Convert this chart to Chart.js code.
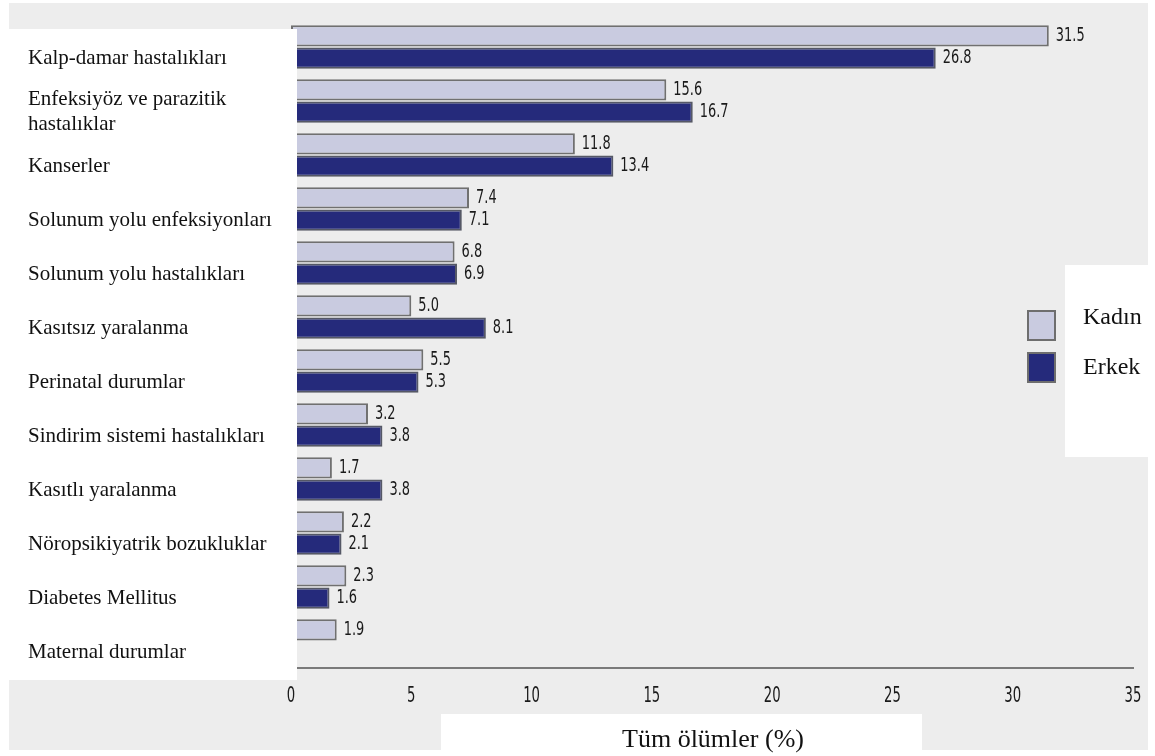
<!DOCTYPE html>
<html>
<head>
<meta charset="utf-8">
<script src="https://cdn.jsdelivr.net/npm/chart.js@4/dist/chart.umd.min.js"></script>
<style>
  html, body { margin: 0; padding: 0; background: #ffffff; }
  #wrap { width: 1155px; height: 756px; }
</style>
</head>
<body>
<div id="wrap"><canvas id="myChart" width="1155" height="756"></canvas></div>
<script>
const categories = [
  'Kalp-damar hastalıkları',
  ['Enfeksiyöz ve parazitik', 'hastalıklar'],
  'Kanserler',
  'Solunum yolu enfeksiyonları',
  'Solunum yolu hastalıkları',
  'Kasıtsız yaralanma',
  'Perinatal durumlar',
  'Sindirim sistemi hastalıkları',
  'Kasıtlı yaralanma',
  'Nöropsikiyatrik bozukluklar',
  'Diabetes Mellitus',
  'Maternal durumlar'
]
const kadin = [31.5, 15.6, 11.8, 7.4, 6.8, 5.0, 5.5, 3.2, 1.7, 2.2, 2.3, 1.9]
const erkek = [26.8, 16.7, 13.4, 7.1, 6.9, 8.1, 5.3, 3.8, 3.8, 2.1, 1.6, null]
const xTicks = [0, 5, 10, 15, 20, 25, 30, 35]
const xTitle = 'Tüm ölümler (%)'

const serif = "'Liberation Serif', 'Times New Roman', serif"
const narrow = "'Liberation Sans Narrow', 'DejaVu Sans Condensed', 'Arial Narrow', sans-serif"

// squeezed sans text for the numbers
function narrowText(ctx, text, x, y, align, squeeze) {
  ctx.save()
  ctx.translate(x, y)
  ctx.scale(squeeze, 1)
  ctx.textAlign = align
  ctx.textBaseline = 'middle'
  ctx.fillText(text, 0, 0)
  ctx.restore()
}

// grey panel with the white boxes on top of it
const panels = {
  id: 'panels',
  beforeDraw(chart) {
    const ctx = chart.ctx
    ctx.save()
    ctx.fillStyle = '#ffffff'
    ctx.fillRect(0, 0, chart.width, chart.height)
    ctx.fillStyle = '#ededed'
    ctx.fillRect(9, 3, 1139, 747)
    ctx.restore()
  },
  afterDatasetsDraw(chart) {
    const ctx = chart.ctx
    ctx.save()
    ctx.fillStyle = '#ffffff'
    ctx.fillRect(9, 29, 288, 651)
    ctx.fillRect(1065, 265, 83, 192)
    ctx.fillRect(441, 714, 481, 42)
    ctx.restore()
  },
  afterDraw(chart) {
    const ctx = chart.ctx
    ctx.save()
    // x tick labels
    const xs = chart.scales.x
    ctx.fillStyle = '#1a1a1a'
    ctx.font = '21px ' + narrow
    xTicks.forEach(v => narrowText(ctx, String(v), xs.getPixelForValue(v), 697, 'center', 0.7))
    // axis title
    ctx.fillStyle = '#111'
    ctx.font = '26px ' + serif
    ctx.textAlign = 'center'
    ctx.textBaseline = 'middle'
    ctx.fillText(xTitle, 713, 740)
    // legend
    ctx.textAlign = 'left'
    ctx.font = '24px ' + serif
    chart.data.datasets.forEach((ds, i) => {
      const y = 311 + i * 42
      ctx.fillStyle = ds.backgroundColor
      ctx.fillRect(1028, y, 27, 29)
      ctx.strokeStyle = '#6e6e6e'
      ctx.lineWidth = 2
      ctx.strokeRect(1028, y, 27, 29)
      ctx.fillStyle = '#111'
      ctx.fillText(ds.label, 1083, y + 7 + i * 8)
    })
    ctx.restore()
  }
}

// value printed at the end of each bar
const barValues = {
  id: 'barValues',
  afterDatasetsDraw(chart) {
    const ctx = chart.ctx
    ctx.save()
    ctx.font = '20px ' + narrow
    ctx.fillStyle = '#1a1a1a'
    chart.data.datasets.forEach((ds, i) => {
      chart.getDatasetMeta(i).data.forEach((bar, j) => {
        const v = ds.data[j]
        if (v == null) return
        narrowText(ctx, v.toFixed(1), bar.x + 7, bar.y, 'left', 0.72)
      })
    })
    ctx.restore()
  }
}

function createChart() {
  const chartie = document.getElementById('myChart')
  new Chart(chartie, {
    type: 'bar',
    data: {
      labels: categories,
      datasets: [
        {
          label: 'Kadın',
          data: kadin,
          backgroundColor: '#c9cbe0',
          borderColor: '#707070',
          borderWidth: 2,
          borderSkipped: false
        },
        {
          label: 'Erkek',
          data: erkek,
          backgroundColor: '#252a7b',
          borderColor: '#555866',
          borderWidth: 2,
          borderSkipped: false
        }
      ]
    },
    options: {
      indexAxis: 'y',
      responsive: false,
      animation: false,
      categoryPercentage: 0.82,
      barPercentage: 0.96,
      layout: { padding: { left: 28, right: 22, top: 20, bottom: 0 } },
      plugins: {
        legend: { display: false },
        tooltip: { enabled: false }
      },
      scales: {
        x: {
          min: 0,
          max: 35,
          afterBuildTicks: scale => { scale.ticks = xTicks.map(v => ({ value: v })) },
          afterFit: scale => {
            scale.height = 88
            scale.paddingLeft = 0
            scale.paddingRight = 0
          },
          grid: { display: false, drawTicks: false },
          border: { display: true, color: '#7a7a7a', width: 2 },
          ticks: { display: false }
        },
        y: {
          afterFit: scale => {
            scale.width = 263
            scale.paddingTop = 0
            scale.paddingBottom = 0
          },
          grid: { display: false, drawTicks: false },
          border: { display: false },
          ticks: {
            z: 1,
            crossAlign: 'far',
            labelOffset: 11,
            color: '#111',
            font: { family: serif, size: 21 }
          }
        }
      }
    },
    plugins: [panels, barValues]
  })
}

createChart()
</script>
</body>
</html>
